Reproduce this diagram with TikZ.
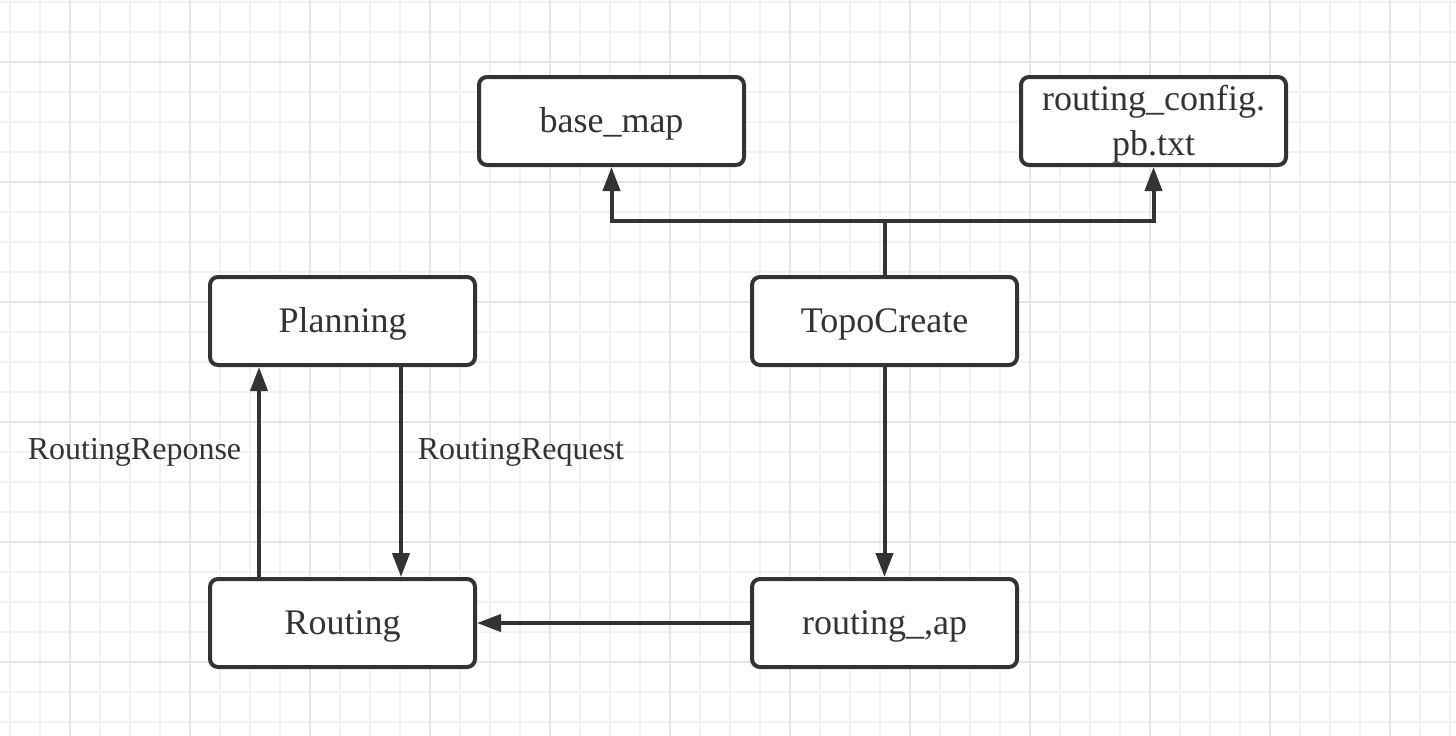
\documentclass[tikz,border=0pt]{standalone}
\usepackage{fontspec}
\setmainfont{Liberation Serif}
\usetikzlibrary{arrows.meta}
\definecolor{ink}{HTML}{333333}
\definecolor{gridminor}{HTML}{F2F2F2}
\definecolor{gridmajor}{HTML}{E6E6E6}
\newcommand\dn[1]{\raisebox{-3pt}[\height][\depth]{#1}}
\tikzset{
  box/.style={draw=ink, line width=4pt, rounded corners=8pt, fill=white,
    minimum width=265pt, minimum height=88pt, inner sep=0pt, align=center,
    text=ink, font=\fontsize{36}{45}\selectfont},
  conn/.style={draw=ink, line width=4pt},
  arr/.style={conn, -{Triangle[width=17pt,length=24pt]}},
  lbl/.style={text=ink, inner sep=0pt, font=\fontsize{32}{38}\selectfont}
}
\begin{document}
\begin{tikzpicture}[x=1pt,y=-1pt]
\useasboundingbox (0,0) rectangle (1456,736);
\fill[white] (0,0) rectangle (1456,736);
% grid
\foreach \x in {10,40,...,1450} \draw[gridminor, line width=1.5pt] (\x,0) -- (\x,736);
\foreach \y in {2,32,...,735} \draw[gridminor, line width=1.5pt] (0,\y) -- (1456,\y);
\foreach \x in {70,190,...,1450} \draw[gridmajor, line width=2pt] (\x,0) -- (\x,736);
\foreach \y in {62,182,...,735} \draw[gridmajor, line width=2pt] (0,\y) -- (1456,\y);
% nodes
\node[box] (basemap) at (611.5,121) {\dn{base\_map}};
\node[box] (rcfg) at (1153.5,121) {\dn{routing\_config.}\\\dn{pb.txt}};
\node[box] (planning) at (342.5,321) {\dn{Planning}};
\node[box] (topo) at (884.5,321) {\dn{TopoCreate}};
\node[box] (routing) at (342.5,623) {\dn{Routing}};
\node[box] (rap) at (884.5,623) {\dn{routing\_,ap}};
\coordinate (j) at (884.5,221);
% connectors
\draw[conn] (topo.north) -- (j);
\draw[arr] (j) -| (basemap.south);
\draw[arr] (j) -| (rcfg.south);
\draw[arr] (topo.south) -- (rap.north);
\draw[arr] (rap.west) -- (routing.east);
\draw[arr] ([xshift=-83.5pt]routing.north) -- ([xshift=-83.5pt]planning.south);
\draw[arr] ([xshift=58.5pt]planning.south) -- ([xshift=58.5pt]routing.north);
% labels
\node[lbl] (lresp) at (134.5,452) {RoutingReponse};
\node[lbl] (lreq) at (521,452) {RoutingRequest};
\end{tikzpicture}
\end{document}
